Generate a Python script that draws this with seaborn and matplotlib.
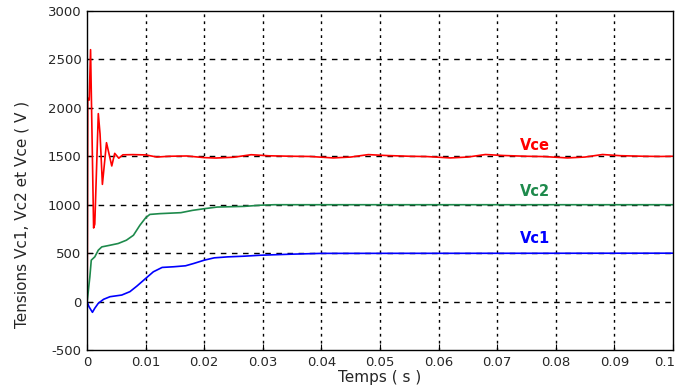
import numpy as np
import pandas as pd
import matplotlib
matplotlib.use("Agg")
import matplotlib.pyplot as plt
import matplotlib.transforms as mtransforms
import seaborn as sns

# --- data ---
t_vce = [0, 0.00005, 0.0001, 0.00035, 0.00058, 0.0011, 0.0013, 0.0019, 0.0022, 0.0026,
         0.0033, 0.0042, 0.0047, 0.0054, 0.0061, 0.0078, 0.01, 0.0119, 0.014, 0.017,
         0.02, 0.022, 0.025, 0.028, 0.031, 0.035, 0.038, 0.042, 0.045, 0.048,
         0.051, 0.055, 0.058, 0.062, 0.065, 0.068, 0.071, 0.075, 0.078, 0.082,
         0.085, 0.088, 0.091, 0.095, 0.098, 0.1]
v_vce = [0, 830, 2100, 2080, 2600, 760, 800, 1940, 1730, 1210,
         1640, 1400, 1530, 1480, 1515, 1517, 1514, 1492, 1500, 1503,
         1486, 1482, 1490, 1516, 1505, 1500, 1498, 1483, 1492, 1517,
         1508, 1500, 1497, 1483, 1492, 1518, 1508, 1500, 1497, 1483,
         1492, 1518, 1506, 1500, 1498, 1500]

t_vc2 = [0, 0.00046, 0.0007, 0.0013, 0.0019, 0.0025, 0.0039, 0.0053, 0.0067, 0.0079,
         0.009, 0.01, 0.0107, 0.0124, 0.016, 0.018, 0.02, 0.0222, 0.0268, 0.0296,
         0.032, 0.1]
v_vc2 = [0, 257, 428, 462, 531, 565, 582, 600, 634, 685,
         788, 866, 900, 908, 918, 942, 959, 976, 983, 995,
         1000, 1000]

t_vc1 = [0, 0.0003, 0.0009, 0.0013, 0.0019, 0.0028, 0.0039, 0.0059, 0.0073, 0.0085,
         0.01, 0.0113, 0.0128, 0.0148, 0.0168, 0.0182, 0.02, 0.0217, 0.024, 0.0268,
         0.0296, 0.035, 0.04, 0.1]
v_vc1 = [0, -51, -110, -68, -17, 24, 51, 68, 103, 161,
         240, 308, 353, 360, 370, 394, 428, 452, 462, 469,
         479, 490, 498, 500]

series_names = ["Vce", "Vc2", "Vc1"]
series_colors = ["#ff0000", "#1e8a4c", "#0000ff"]
label_pos = [(0.0765, 1615), (0.0765, 1140), (0.0765, 655)]

x_ticks = [0, 0.01, 0.02, 0.03, 0.04, 0.05, 0.06, 0.07, 0.08, 0.09, 0.1]
x_ticklabels = ["0", "0.01", "0.02", "0.03", "0.04", "0.05", "0.06", "0.07", "0.08", "0.09", "0.1"]
y_ticks = [-500, 0, 500, 1000, 1500, 2000, 2500, 3000]

df = pd.concat([
    pd.DataFrame({"t": t_vce, "v": v_vce, "s": "Vce"}),
    pd.DataFrame({"t": t_vc2, "v": v_vc2, "s": "Vc2"}),
    pd.DataFrame({"t": t_vc1, "v": v_vc1, "s": "Vc1"}),
])

sns.set_style("white")
plt.rcParams['font.family'] = ['DejaVu Sans']
plt.rcParams['axes.unicode_minus'] = False

fig = plt.figure(figsize=(6.81, 3.89), dpi=100)
ax = fig.add_axes([0.128, 0.100, 0.860, 0.872])

sns.lineplot(data=df, x="t", y="v", hue="s", hue_order=series_names,
             palette=dict(zip(series_names, series_colors)),
             estimator=None, sort=False, linewidth=1.2, legend=False, ax=ax)

ax.set_xlim(0, 0.1)
ax.set_ylim(-500, 3000)
ax.set_xticks(x_ticks)
ax.set_xticklabels(x_ticklabels)
ax.set_yticks(y_ticks)

for x in x_ticks[1:-1]:
    ax.axvline(x, color="black", linestyle=(0, (2, 3)), linewidth=1.0, zorder=0.5)
for y in y_ticks[1:-1]:
    ax.axhline(y, color="black", linestyle=(0, (4, 4)), linewidth=1.0, zorder=0.5)

for name, col, (tx, ty) in zip(series_names, series_colors, label_pos):
    ax.text(tx, ty, name, color=col, fontsize=10.5, fontweight="bold",
            ha="center", va="center")

for sp in ax.spines.values():
    sp.set_visible(True)
    sp.set_color("black")
    sp.set_linewidth(1.0)

ax.tick_params(axis="both", labelsize=9.5, length=4, direction="in", color="black",
               pad=4, bottom=True, left=True)
ax.set_xlabel("Temps ( s )", fontsize=11, labelpad=1)
ax.set_ylabel("Tensions Vc1, Vc2 et Vce ( V )", fontsize=11)
ax.yaxis.set_label_coords(-0.098, 0.40)

# keep the last x tick label inside the canvas (as in the reference)
last = ax.get_xticklabels()[-1]
last.set_transform(last.get_transform() +
                   mtransforms.ScaledTranslation(-0.08, 0, fig.dpi_scale_trans))

fig.savefig("out.png", dpi=100, facecolor="white")
